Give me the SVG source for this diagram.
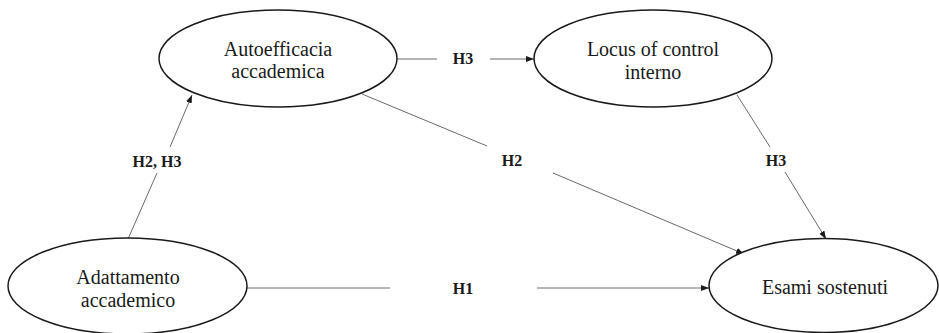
<svg xmlns="http://www.w3.org/2000/svg" width="939" height="333" viewBox="0 0 939 333">
<style>
.node ellipse{fill:#fff;stroke:#1a1a1a;stroke-width:1.5}
.node text{font-family:"Liberation Serif","Times New Roman",serif;font-size:20px;fill:#1a1a1a;text-anchor:middle}
.edge{stroke:#6a6a6a;stroke-width:1;fill:none}
.lbl{font-family:"Liberation Serif","Times New Roman",serif;font-size:16px;font-weight:bold;fill:#1a1a1a;text-anchor:middle}
</style>
<defs>
<marker id="arr" markerUnits="userSpaceOnUse" markerWidth="8" markerHeight="6" refX="8" refY="3" orient="auto">
<path d="M0,0 L8,3 L0,6 z" fill="#1a1a1a"/>
</marker>
</defs>
<rect width="939" height="333" fill="#fff"/>
<g id="connectors">
<line class="edge" x1="128" y1="239" x2="157" y2="173"/>
<line class="edge" x1="170" y1="147" x2="192" y2="95" marker-end="url(#arr)"/>
<text class="lbl" x="157" y="167">H2, H3</text>
<line class="edge" x1="397" y1="59" x2="437" y2="59"/>
<line class="edge" x1="490" y1="59" x2="534" y2="59" marker-end="url(#arr)"/>
<text class="lbl" x="463" y="64">H3</text>
<line class="edge" x1="362" y1="94" x2="487" y2="146"/>
<line class="edge" x1="553" y1="173" x2="744" y2="254" marker-end="url(#arr)"/>
<text class="lbl" x="512" y="166">H2</text>
<line class="edge" x1="737" y1="95" x2="770" y2="147"/>
<line class="edge" x1="785" y1="172" x2="826" y2="239" marker-end="url(#arr)"/>
<text class="lbl" x="776" y="166">H3</text>
<line class="edge" x1="247" y1="288" x2="390" y2="288"/>
<line class="edge" x1="537" y1="288" x2="709" y2="288" marker-end="url(#arr)"/>
<text class="lbl" x="463" y="294">H1</text>
</g>
<g id="autoefficacia" class="node">
<ellipse cx="278" cy="58.5" rx="119" ry="48.5"/>
<text x="278" y="56">Autoefficacia</text>
<text x="278" y="78">accademica</text>
</g>
<g id="locus" class="node">
<ellipse cx="653" cy="58.5" rx="119" ry="48.5"/>
<text x="653" y="56">Locus of control</text>
<text x="653" y="79">interno</text>
</g>
<g id="adattamento" class="node">
<ellipse cx="127.5" cy="286" rx="119.5" ry="48"/>
<text x="128" y="284">Adattamento</text>
<text x="128" y="307">accademico</text>
</g>
<g id="esami" class="node">
<ellipse cx="823.5" cy="285.5" rx="114.5" ry="47"/>
<text x="825" y="294">Esami sostenuti</text>
</g>
</svg>
